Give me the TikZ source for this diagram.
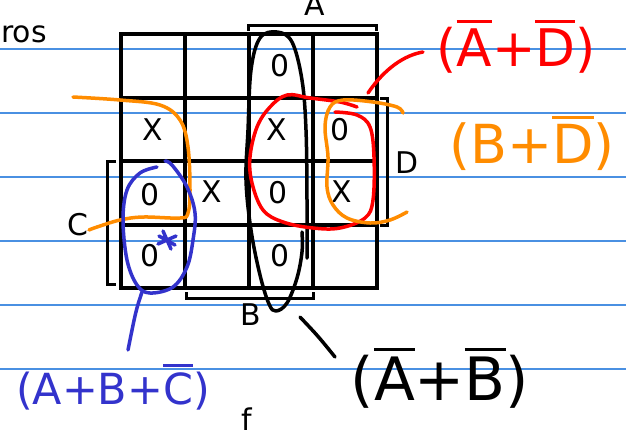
\documentclass[tikz,border=0pt]{standalone}
\usepackage{fontspec}
\setmainfont{DejaVu Sans}
\usepackage{tikz}
\usetikzlibrary{positioning}

\definecolor{rulecol}{RGB}{74,144,226}
\definecolor{penred}{RGB}{255,0,0}
\definecolor{penorange}{RGB}{255,140,0}
\definecolor{penblue}{RGB}{51,51,204}
\newcommand\ovl[1]{\leavevmode\vbox{\hrule height 3pt\kern 5pt\hbox{#1}}}

\begin{document}
\begin{tikzpicture}[x=1bp,y=-1bp,
    rule/.style={rulecol, line width=1.5bp},
    kline/.style={line width=4bp, line cap=rect},
    brack/.style={line width=3bp},
    pen/.style={line width=3.5bp, line cap=round, line join=round},
    entry/.style={font=\fontsize{30}{36}\selectfont, inner sep=0pt, anchor=base},
    hand/.style={font=\fontsize{#1}{#1}\selectfont, inner sep=0pt, anchor=base}]

    \useasboundingbox (0,0) rectangle (626,431);
    \fill[white] (0,0) rectangle (626,431);

    % ruled paper
    \foreach \y in {49,113,...,369}
        \draw[rule] (0,\y) -- (626,\y);

    % the map
    \foreach \i in {0,...,4} {
        \draw[kline] (121+64*\i,34) -- (121+64*\i,288);
        \draw[kline] (121,34+63.5*\i) -- (377,34+63.5*\i);
    }

    \node[entry] (c13) at (280,76) {0};
    \node[entry] (c21) at (153,140) {X};
    \node[entry] (c23) at (277,140) {X};
    \node[entry] (c24) at (340,140) {0};
    \node[entry] (c31) at (150,205) {0};
    \node[entry] (c32) at (212,202) {X};
    \node[entry] (c33) at (278,203) {0};
    \node[entry] (c34) at (342,202) {X};
    \node[entry] (c41) at (150,266) {0};
    \node[entry] (c43) at (280,266) {0};

    % variables
    \node[entry] (ros) at (24,42) {ros};
    \node[entry] (lA) at (315,15) {A};
    \node[entry] (lD) at (407,173) {D};
    \node[entry] (lC) at (78,235) {C};
    \node[entry] (lB) at (251,325) {B};
    \node[entry] (lf) at (247,430) {f};

    \draw[brack] (248,31) -- (248,25) -- (376,25) -- (376,31);
    \draw[brack] (380,98) -- (387,98) -- (387,225) -- (380,225);
    \draw[brack] (116,161) -- (107,161) -- (107,284) -- (116,284);
    \draw[brack] (186,292) -- (186,298) -- (313,298) -- (313,292);

    % groups
    \draw[pen] plot[smooth, tension=0.6] coordinates {(307,258) (307,200) (306,130)
        (302,80) (292,42) (277,32) (260,38) (251,70) (248,130) (246,180) (251,230)
        (260,275) (269,304) (276,311) (287,303) (297,278) (302,252) (302,232)};
    \coordinate (kEnd) at (300,317);
    \coordinate (kTip) at (335,357);

    \draw[pen, penred] plot[smooth, tension=0.6] coordinates {(335,112) (357,115)
        (370,127) (374,157) (373,200) (365,218) (340,228) (313,228) (283,222) (263,210)
        (252,183) (250,157) (257,127) (270,107) (287,95) (310,98) (340,102) (357,107)};
    \coordinate (rEnd) at (368,93);
    \coordinate (rTip) at (423,52);

    \draw[pen, penorange] plot[smooth, tension=0.6] coordinates {(73,97) (120,100)
        (160,105) (180,120) (188,147) (190,190) (188,213) (180,218) (143,217)
        (120,220) (97,227) (89,230)};
    \draw[pen, penorange] plot[smooth, tension=0.6] coordinates {(403,113) (397,107)
        (373,102) (343,100) (330,107) (325,127) (328,157) (327,187) (333,205)
        (347,218) (370,223) (390,220) (407,212)};

    \draw[pen, penblue] plot[smooth, tension=0.6] coordinates {(165,161) (172,165)
        (187,187) (195,213) (193,240) (187,267) (173,287) (150,293) (137,285)
        (127,260) (123,220) (127,190) (140,173) (157,167)};
    \draw[pen, penblue] (163,231) -- (171,249) (158,244) -- (176,236)
        (159,236) -- (175,245);
    \coordinate (bEnd) at (142,292);
    \coordinate (bTip) at (128,350);

    % the terms
    \node[hand=60] (ab) at (440,400) {(\ovl{A}+\ovl{B})};
    \node[hand=52, penred] (ad) at (516,66) {(\ovl{A}+\ovl{D})};
    \node[hand=54, penorange] (bd) at (532,163) {(B+\ovl{D})};
    \node[hand=43, penblue] (abc) at (113,404) {(A+B+\ovl{C})};

    \draw[pen] (kEnd) .. controls (318,336) .. (kTip);
    \draw[pen, penred] (rEnd) .. controls (385,68) and (405,55) .. (rTip);
    \draw[pen, penblue] (bEnd) .. controls (136,310) .. (bTip);
\end{tikzpicture}
\end{document}
